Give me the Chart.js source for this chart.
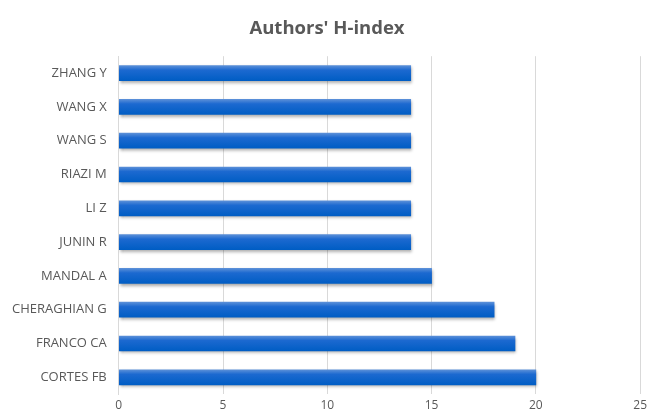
<!DOCTYPE html>
<html>
<head>
<meta charset="utf-8">
<script src="https://cdn.jsdelivr.net/npm/chart.js@4"></script>
<style>
  html, body { margin: 0; padding: 0; background: #fff; }
  #wrap { width: 651px; height: 414px; }
</style>
</head>
<body>
<div id="wrap"><canvas id="hindex"></canvas></div>
<script>
var authors = ['ZHANG Y', 'WANG X', 'WANG S', 'RIAZI M', 'LI Z', 'JUNIN R', 'MANDAL A', 'CHERAGHIAN G', 'FRANCO CA', 'CORTES FB'];
var hIndex = [14, 14, 14, 14, 14, 14, 15, 18, 19, 20];

var BAR_H = 15;

// blue bar with a lighter top edge and darker bottom edge
function barFill(context) {
    var chart = context.chart;
    var y = chart.scales && chart.scales.y;
    if (!y || context.dataIndex == null) return '#1a64c6';
    var cy = y.getPixelForValue(context.dataIndex);
    if (!isFinite(cy)) return '#1a64c6';
    var g = chart.ctx.createLinearGradient(0, cy - BAR_H / 2, 0, cy + BAR_H / 2);
    g.addColorStop(0, '#5a8fd8');
    g.addColorStop(0.3, '#1c69d0');
    g.addColorStop(1, '#005dc4');
    return g;
}

var barShadow = {
    id: 'barShadow',
    beforeDatasetsDraw: function (chart) {
        var c = chart.ctx;
        c.save();
        c.shadowColor = 'rgba(0,0,0,0.35)';
        c.shadowBlur = 3;
        c.shadowOffsetX = 1;
        c.shadowOffsetY = 2;
    },
    afterDatasetsDraw: function (chart) {
        chart.ctx.restore();
    }
};

window.addEventListener("load", function () {
    var ctx = document.getElementById('hindex').getContext('2d');
    new Chart(ctx, {
        type: 'bar',
        data: {
            labels: authors,
            datasets: [
                {
                    label: 'H-index',
                    data: hIndex,
                    backgroundColor: barFill,
                    barThickness: BAR_H
                }
            ]
        },
        plugins: [barShadow],
        options: {
            indexAxis: 'y',
            responsive: true,
            maintainAspectRatio: false,
            animation: false,
            layout: { padding: { left: 0, right: -3, top: 0, bottom: -9 } },
            plugins: {
                legend: { display: false },
                tooltip: { enabled: false },
                title: {
                    display: true,
                    text: "Authors' H-index",
                    color: '#595959',
                    font: { family: 'Open Sans', size: 18.5, weight: 'bold' },
                    padding: { top: 18, bottom: 16 }
                }
            },
            scales: {
                x: {
                    min: 0,
                    max: 25,
                    ticks: {
                        stepSize: 5,
                        color: '#595959',
                        font: { family: 'Open Sans', size: 12 },
                        padding: 4
                    },
                    grid: { color: '#d9d9d9', drawTicks: false },
                    border: { display: false }
                },
                y: {
                    ticks: {
                        color: '#595959',
                        font: { family: 'Open Sans', size: 13 },
                        padding: 12
                    },
                    grid: { display: false, drawTicks: false },
                    border: { display: true, color: '#d9d9d9' }
                }
            }
        }
    });
});
</script>
</body>
</html>
